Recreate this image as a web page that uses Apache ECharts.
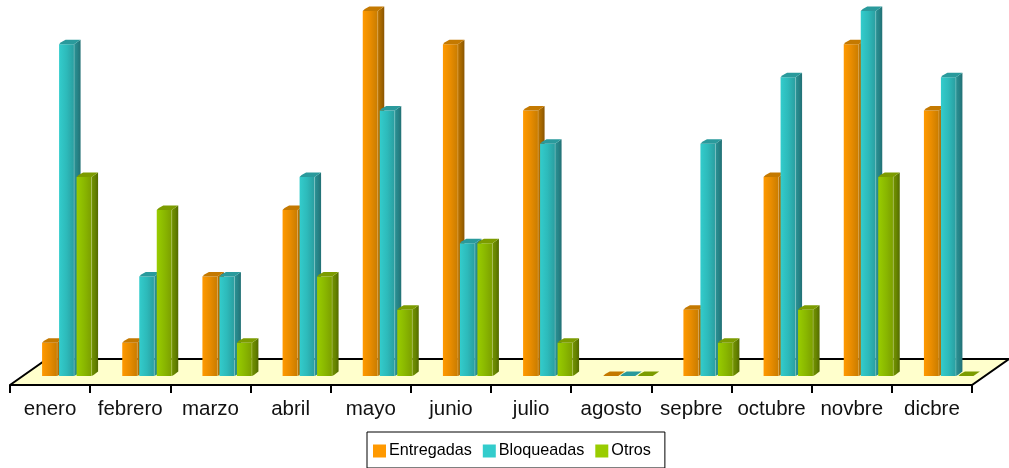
<!DOCTYPE html>
<html>
<head>
<meta charset="utf-8">
<style>
  html, body { margin: 0; padding: 0; background: #fff; }
  #main { width: 1009px; height: 468px; }
</style>
</head>
<body>
<div id="main"></div>
<script src="https://cdn.jsdelivr.net/npm/echarts@6/dist/echarts.min.js"></script>
<script>
var months = ['enero', 'febrero', 'marzo', 'abril', 'mayo', 'junio', 'julio', 'agosto', 'sepbre', 'octubre', 'novbre', 'dicbre'];
var entregadas = [1, 1, 3, 5, 11, 10, 8, 0, 2, 6, 10, 8];
var bloqueadas = [10, 3, 3, 6, 8, 4, 7, 0, 7, 9, 11, 9];
var otros = [6, 5, 1, 3, 2, 4, 1, 0, 1, 2, 6, 0];

var FRONT = 15, DX = 6.5, DY = 4.5;

function toData(values) {
  return values.map(function (v, i) { return [i, v]; });
}

function grad(a, b, c) {
  return {
    type: 'linear', x: 0, y: 0, x2: 1, y2: 0,
    colorStops: [{ offset: 0, color: a }, { offset: 0.5, color: b }, { offset: 1, color: c }]
  };
}

// one 3d bar: front, right side and top faces
function bar3d(slot, colors) {
  return function (params, api) {
    var base = api.coord([api.value(0), 0]);
    var top = api.coord([api.value(0), api.value(1)]);
    var x = base[0] + slot;
    var y0 = base[1], y1 = top[1];
    var children = [];
    if (y0 - y1 > 0.5) {
      children.push({
        type: 'polygon',
        shape: { points: [[x + FRONT, y1], [x + FRONT + DX, y1 - DY], [x + FRONT + DX, y0 - DY], [x + FRONT + 2, y0 - 1], [x + FRONT, y0]] },
        style: { fill: grad(colors.side[0], colors.side[1], colors.side[2]) }
      });
      children.push({
        type: 'rect',
        shape: { x: x, y: y1, width: FRONT, height: y0 - y1 },
        style: { fill: grad(colors.front[0], colors.front[1], colors.front[2]) }
      });
      children.push({
        type: 'line',
        shape: { x1: x + FRONT, y1: y1, x2: x + FRONT, y2: y0 },
        style: { stroke: colors.edge, lineWidth: 1, opacity: 0.35 }
      });
    }
    children.push({
      type: 'polygon',
      shape: { points: [[x, y1], [x + 2, y1 - 2], [x + DX, y1 - DY], [x + FRONT + DX, y1 - DY], [x + FRONT, y1]] },
      style: { fill: colors.top }
    });
    return { type: 'group', children: children };
  };
}

function floor(params) {
  var c = params.coordSys;
  var yf = c.y + c.height + 9, yb = c.y + c.height - 17;
  var xl = c.x, xr = c.x + c.width;
  return {
    type: 'polyline',
    shape: { points: [[xl, yf], [xr, yf], [xr + 37, yb], [xl + 37, yb], [xl, yf]] },
    style: { fill: '#ffffcc', stroke: '#000', lineWidth: 2 }
  };
}

var orange = { front: ['#ff9900', '#e88c00', '#c87c00'], side: ['#bc7300', '#a66800', '#8a5500'], top: '#c47900', edge: '#e8c080' };
var teal = { front: ['#33cccc', '#2dbaba', '#2a9ea0'], side: ['#2a9294', '#268488', '#227074'], top: '#2a9a9c', edge: '#b0dcdc' };
var green = { front: ['#99cc00', '#8ab800', '#7c9f00'], side: ['#729200', '#668400', '#526a00'], top: '#7c9c00', edge: '#c8d890' };

var chart = echarts.init(document.getElementById('main'), null, { renderer: 'canvas' });
chart.setOption({
  animation: false,
  backgroundColor: '#fff',
  grid: { left: 10, right: 37, top: 11, bottom: 92 },
  legend: {
    data: ['Entregadas', 'Bloqueadas', 'Otros'],
    left: 367,
    top: 432,
    padding: [11, 14, 9, 6],
    itemWidth: 13,
    itemHeight: 13,
    itemGap: 11,
    icon: 'rect',
    borderColor: '#000',
    borderWidth: 1,
    selectedMode: false,
    textStyle: { fontFamily: 'Liberation Sans', fontSize: 16.2, color: '#000', padding: [0, 0, 0, -2] }
  },
  xAxis: {
    type: 'category',
    data: months,
    offset: 9,
    z: 5,
    axisLine: { show: true, onZero: false, lineStyle: { color: '#000', width: 2 } },
    axisTick: { show: true, length: 8, lineStyle: { color: '#000', width: 2 } },
    axisLabel: { interval: 0, margin: 14, fontFamily: 'Liberation Sans', fontSize: 20.5, color: '#111' }
  },
  yAxis: { type: 'value', min: 0, max: 11, show: false },
  series: [
    { type: 'custom', name: 'floor', renderItem: floor, data: [[0, 0]], z: 1, silent: true },
    { type: 'custom', name: 'Entregadas', renderItem: bar3d(-8, orange), data: toData(entregadas), itemStyle: { color: '#ff9900' }, z: 2 },
    { type: 'custom', name: 'Bloqueadas', renderItem: bar3d(9, teal), data: toData(bloqueadas), itemStyle: { color: '#33cccc' }, z: 3 },
    { type: 'custom', name: 'Otros', renderItem: bar3d(26.5, green), data: toData(otros), itemStyle: { color: '#99cc00' }, z: 4 }
  ]
});
</script>
</body>
</html>
